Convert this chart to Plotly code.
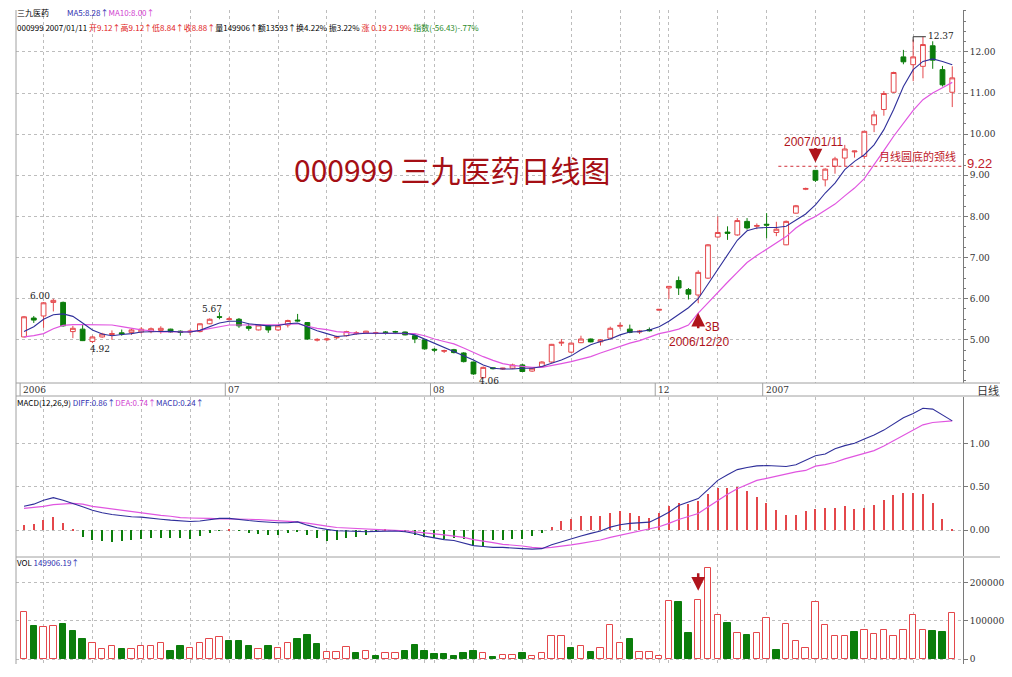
import plotly.graph_objects as go

# ---------------- data ----------------
opens = [5.07, 5.53, 5.58, 5.91, 5.91, 5.20, 5.26, 4.96, 5.07, 5.13,
         5.17, 5.18, 5.19, 5.20, 5.23, 5.26, 5.21, 5.19, 5.20, 5.39,
         5.56, 5.49, 5.50, 5.32, 5.24, 5.34, 5.24, 5.36, 5.48, 5.42,
         4.99, 5.00, 5.05, 5.10, 5.15, 5.16, 5.16, 5.19, 5.20, 5.19,
         5.10, 5.00, 4.77, 4.72, 4.76, 4.68, 4.46, 4.08, 4.32, 4.29,
         4.31, 4.39, 4.24, 4.35, 4.46, 4.92, 4.70, 4.93, 5.02, 4.95,
         5.04, 5.33, 5.26, 5.19, 5.25, 5.72, 6.26, 6.44, 6.22, 6.09,
         6.50, 7.50, 7.62, 7.55, 7.88, 7.76, 7.81, 7.61, 7.31, 8.08,
         8.66, 9.12, 8.89, 9.22, 9.42, 9.57, 9.46, 10.23, 10.60, 11.02,
         11.88, 11.69, 11.65, 12.15, 11.57, 11.02]
highs = [5.58, 5.58, 5.92, 6.00, 5.93, 5.34, 5.36, 5.10, 5.17, 5.23,
         5.25, 5.27, 5.31, 5.30, 5.33, 5.27, 5.23, 5.25, 5.40, 5.52,
         5.67, 5.56, 5.53, 5.40, 5.37, 5.36, 5.36, 5.49, 5.63, 5.43,
         5.04, 5.05, 5.10, 5.22, 5.21, 5.22, 5.20, 5.21, 5.22, 5.20,
         5.12, 5.01, 4.80, 4.76, 4.78, 4.70, 4.47, 4.35, 4.33, 4.32,
         4.42, 4.42, 4.33, 4.48, 4.90, 5.02, 4.93, 5.10, 5.03, 5.02,
         5.32, 5.42, 5.37, 5.24, 5.30, 5.75, 6.31, 6.54, 6.26, 6.69,
         7.33, 8.00, 7.76, 7.96, 7.96, 7.83, 8.08, 7.87, 7.90, 8.28,
         8.70, 9.12, 9.17, 9.45, 9.74, 9.60, 10.08, 10.57, 11.05, 11.52,
         12.05, 12.30, 12.37, 12.26, 11.66, 11.65]
lows = [5.06, 5.41, 5.29, 5.69, 5.32, 5.04, 4.97, 4.92, 5.05, 5.00,
        5.10, 5.12, 5.15, 5.16, 5.15, 5.17, 5.10, 5.12, 5.18, 5.38,
        5.50, 5.47, 5.29, 5.22, 5.23, 5.17, 5.22, 5.30, 5.44, 5.00,
        4.96, 4.97, 5.02, 5.08, 5.12, 5.15, 5.13, 5.13, 5.14, 5.11,
        4.92, 4.76, 4.70, 4.68, 4.67, 4.45, 4.15, 4.06, 4.28, 4.27,
        4.29, 4.22, 4.22, 4.33, 4.44, 4.85, 4.68, 4.92, 4.94, 4.86,
        5.03, 5.27, 5.16, 5.14, 5.20, 5.71, 5.99, 6.09, 5.98, 5.89,
        6.48, 7.48, 7.43, 7.53, 7.68, 7.69, 7.47, 7.52, 7.30, 8.07,
        8.64, 8.84, 8.73, 9.04, 9.22, 9.43, 9.40, 10.05, 10.45, 11.00,
        11.70, 11.29, 11.36, 11.59, 11.16, 10.66]
closes = [5.56, 5.48, 5.90, 5.96, 5.34, 5.28, 4.98, 5.07, 5.14, 5.15,
          5.14, 5.24, 5.26, 5.27, 5.28, 5.19, 5.18, 5.21, 5.39, 5.50,
          5.55, 5.51, 5.34, 5.28, 5.36, 5.24, 5.34, 5.47, 5.46, 5.02,
          5.01, 5.02, 5.07, 5.20, 5.17, 5.21, 5.17, 5.18, 5.19, 5.12,
          5.02, 4.78, 4.75, 4.74, 4.69, 4.47, 4.17, 4.33, 4.30, 4.31,
          4.39, 4.23, 4.31, 4.46, 4.89, 4.94, 4.92, 5.02, 4.95, 5.00,
          5.28, 5.35, 5.18, 5.21, 5.22, 5.74, 6.30, 6.26, 6.11, 6.64,
          7.31, 7.61, 7.59, 7.90, 7.72, 7.78, 7.79, 7.69, 7.88, 8.26,
          8.68, 8.88, 9.15, 9.40, 9.64, 9.59, 10.07, 10.47, 10.99, 11.50,
          11.76, 11.88, 12.18, 11.80, 11.20, 11.37]
ma5 = [5.20, 5.32, 5.50, 5.61, 5.63, 5.57, 5.41, 5.24, 5.14, 5.10,
       5.13, 5.15, 5.19, 5.20, 5.20, 5.21, 5.19, 5.19, 5.23, 5.32,
       5.41, 5.45, 5.45, 5.39, 5.37, 5.34, 5.35, 5.39, 5.41, 5.32,
       5.22, 5.15, 5.08, 5.10, 5.14, 5.16, 5.16, 5.16, 5.16, 5.16,
       5.12, 5.02, 4.92, 4.81, 4.72, 4.61, 4.51, 4.39, 4.31, 4.29,
       4.29, 4.31, 4.31, 4.35, 4.43, 4.51, 4.61, 4.76, 4.88, 4.96,
       5.02, 5.12, 5.19, 5.20, 5.24, 5.32, 5.45, 5.62, 5.78, 6.00,
       6.35, 6.72, 7.06, 7.42, 7.65, 7.72, 7.73, 7.73, 7.76, 7.92,
       8.06, 8.28, 8.57, 8.81, 9.14, 9.34, 9.50, 9.74, 10.11, 10.60,
       11.16, 11.57, 11.77, 11.83, 11.77, 11.69]
ma10 = [5.07, 5.10, 5.15, 5.27, 5.35, 5.37, 5.37, 5.37, 5.37, 5.36,
        5.32, 5.28, 5.24, 5.22, 5.19, 5.19, 5.19, 5.20, 5.23, 5.27,
        5.31, 5.36, 5.36, 5.36, 5.36, 5.36, 5.37, 5.38, 5.39, 5.33,
        5.28, 5.25, 5.20, 5.18, 5.16, 5.16, 5.16, 5.16, 5.16, 5.16,
        5.15, 5.10, 5.02, 4.96, 4.90, 4.80, 4.69, 4.59, 4.50, 4.42,
        4.38, 4.35, 4.33, 4.33, 4.37, 4.42, 4.47, 4.53, 4.59, 4.68,
        4.76, 4.84, 4.92, 4.98, 5.06, 5.15, 5.20, 5.26, 5.36, 5.65,
        5.90, 6.16, 6.40, 6.64, 6.88, 7.05, 7.20, 7.35, 7.51, 7.72,
        7.88, 8.00, 8.16, 8.30, 8.50, 8.69, 8.92, 9.25, 9.60, 9.95,
        10.28, 10.58, 10.84, 11.00, 11.13, 11.26]
diff = [0.276, 0.30, 0.345, 0.375, 0.345, 0.31, 0.27, 0.23, 0.20, 0.18,
        0.165, 0.155, 0.15, 0.135, 0.125, 0.115, 0.11, 0.10, 0.105, 0.12,
        0.135, 0.135, 0.12, 0.11, 0.10, 0.09, 0.085, 0.085, 0.095, 0.057,
        0.027, 0.008, -0.008, -0.01, -0.015, -0.02, -0.015, -0.015, -0.01, -0.02,
        -0.04, -0.07, -0.09, -0.11, -0.12, -0.15, -0.18, -0.19, -0.20, -0.20,
        -0.21, -0.215, -0.22, -0.215, -0.17, -0.134, -0.096, -0.069, -0.038, -0.011,
        0.034, 0.061, 0.077, 0.084, 0.092, 0.146, 0.207, 0.284, 0.32, 0.364,
        0.467, 0.575, 0.64, 0.70, 0.724, 0.743, 0.747, 0.743, 0.736, 0.755,
        0.805, 0.86, 0.88, 0.94, 0.977, 1.004, 1.054, 1.10, 1.157, 1.226,
        1.30, 1.35, 1.41, 1.40, 1.333, 1.264]
dea = [0.25, 0.26, 0.275, 0.295, 0.306, 0.31, 0.30, 0.275, 0.26, 0.245,
       0.225, 0.215, 0.20, 0.185, 0.17, 0.16, 0.145, 0.14, 0.14, 0.135,
       0.13, 0.13, 0.13, 0.125, 0.12, 0.115, 0.11, 0.10, 0.095, 0.08,
       0.06, 0.045, 0.03, 0.025, 0.015, 0.01, 0.005, 0.0, -0.005, -0.01,
       -0.02, -0.03, -0.04, -0.055, -0.07, -0.085, -0.11, -0.125, -0.145, -0.165,
       -0.172, -0.184, -0.20, -0.21, -0.20, -0.19, -0.172, -0.153, -0.134, -0.115,
       -0.084, -0.061, -0.038, -0.011, 0.015, 0.038, 0.077, 0.123, 0.157, 0.192,
       0.268, 0.345, 0.414, 0.479, 0.525, 0.575, 0.598, 0.625, 0.651, 0.674,
       0.69, 0.74, 0.757, 0.785, 0.824, 0.854, 0.889, 0.92, 0.973, 1.034,
       1.092, 1.157, 1.218, 1.245, 1.257, 1.264]
macd_hist = [0.057, 0.069, 0.115, 0.146, 0.077, 0.003, -0.077, -0.115, -0.123, -0.134,
             -0.123, -0.115, -0.107, -0.096, -0.096, -0.096, -0.096, -0.107, -0.069, -0.038,
             -0.008, 0.002, -0.008, -0.031, -0.046, -0.057, -0.057, -0.038, -0.011, -0.057,
             -0.096, -0.123, -0.115, -0.096, -0.077, -0.057, -0.008, 0.002, -0.008, -0.027,
             -0.057, -0.084, -0.096, -0.107, -0.096, -0.107, -0.18, -0.19, -0.115, -0.115,
             -0.107, -0.107, -0.069, -0.03, 0.038, 0.103, 0.134, 0.165, 0.165, 0.165,
             0.199, 0.218, 0.192, 0.165, 0.142, 0.192, 0.276, 0.314, 0.299, 0.333,
             0.421, 0.487, 0.490, 0.498, 0.448, 0.383, 0.314, 0.238, 0.180, 0.180,
             0.218, 0.24, 0.257, 0.261, 0.276, 0.241, 0.261, 0.287, 0.352, 0.410,
             0.433, 0.433, 0.414, 0.314, 0.134, 0.008]
volumes = [123000, 86000, 83000, 86000, 91000, 72000, 52000, 41000, 27000, 33000,
           26000, 27000, 35000, 33000, 43000, 22000, 34000, 28000, 41000, 52000,
           57000, 46000, 48000, 33000, 26000, 33000, 28000, 41000, 52000, 64000,
           38000, 18000, 18000, 31000, 15000, 20000, 9000, 15000, 17000, 20000,
           37000, 22000, 14000, 12000, 7000, 17000, 21000, 17000, 5000, 10000,
           10000, 15000, 7000, 15000, 59000, 59000, 28000, 33000, 18000, 28000,
           90000, 41000, 52000, 18000, 18000, 7000, 152000, 149000, 69000, 155000,
           238000, 116000, 93000, 67000, 64000, 67000, 107000, 24000, 91000, 47000,
           28000, 149906, 90000, 60000, 61000, 71000, 76000, 65000, 75000, 61000,
           75000, 114000, 75000, 72000, 70000, 119000]
vol_up = [1, 0, 1, 1, 0, 0, 0, 1, 1, 1,
          0, 1, 1, 1, 1, 0, 0, 1, 1, 1,
          1, 0, 0, 0, 1, 0, 1, 1, 0, 0,
          0, 1, 1, 1, 0, 1, 0, 1, 1, 0,
          0, 0, 0, 0, 0, 0, 0, 1, 0, 1,
          1, 0, 1, 1, 1, 1, 0, 1, 0, 1,
          1, 1, 0, 1, 1, 1, 1, 0, 0, 1,
          1, 1, 0, 1, 0, 1, 1, 0, 1, 1,
          1, 1, 1, 1, 1, 0, 1, 1, 1, 1,
          1, 1, 1, 0, 0, 1]
grid_bars = [2, 7, 12, 17, 21, 26, 31, 36, 41, 42, 46, 51, 56, 61, 65, 66, 71, 76, 81, 86, 91]
month_labels = ["2006", "07", "08", "12", "2007"]
month_bars = [0, 21, 42, 65, 76]
price_ticks = [5, 6, 7, 8, 9, 10, 11, 12]
macd_ticks = [0.0, 0.5, 1.0]
vol_ticks = [0, 100000, 200000]
neckline = 9.22

# ---------------- style ----------------
W, H = 1012, 677
RED = "#e4474b"
DRED = "#b0141c"
GREEN = "#0b7d0b"
BLUE = "#2f2f9a"
MAG = "#e055e0"
GRID = "#bdbdbd"
AX = "#7a7a7a"
FONT = "Noto Sans CJK SC"


def fx(p):
    return p / W


def fy(p):
    return 1 - p / H


x = list(range(len(closes)))
X_RANGE = [-0.82, 96.1]
XDOM = [fx(16), fx(963)]

fig = go.Figure()

# price panel
fig.add_trace(go.Candlestick(
    x=x, open=opens, high=highs, low=lows, close=closes,
    increasing=dict(line=dict(color=RED, width=1), fillcolor="white"),
    decreasing=dict(line=dict(color=GREEN, width=1), fillcolor=GREEN),
    whiskerwidth=0, xaxis="x", yaxis="y", showlegend=False, hoverinfo="skip"))
fig.add_trace(go.Scatter(x=x, y=ma10, mode="lines", line=dict(color=MAG, width=1.2),
                         xaxis="x", yaxis="y", showlegend=False, hoverinfo="skip"))
fig.add_trace(go.Scatter(x=x, y=ma5, mode="lines", line=dict(color=BLUE, width=1.1),
                         xaxis="x", yaxis="y", showlegend=False, hoverinfo="skip"))

# MACD panel
fig.add_trace(go.Bar(x=x, y=macd_hist, width=0.13,
                     marker=dict(color=[RED if v >= 0 else GREEN for v in macd_hist], line=dict(width=0)),
                     xaxis="x2", yaxis="y2", showlegend=False, hoverinfo="skip"))
fig.add_trace(go.Scatter(x=x, y=dea, mode="lines", line=dict(color=MAG, width=1.2),
                         xaxis="x2", yaxis="y2", showlegend=False, hoverinfo="skip"))
fig.add_trace(go.Scatter(x=x, y=diff, mode="lines", line=dict(color=BLUE, width=1.1),
                         xaxis="x2", yaxis="y2", showlegend=False, hoverinfo="skip"))

# volume panel
fig.add_trace(go.Bar(x=x, y=volumes, width=0.66,
                     marker=dict(color=["white" if u else GREEN for u in vol_up],
                                 line=dict(color=[RED if u else GREEN for u in vol_up], width=1)),
                     xaxis="x3", yaxis="y3", showlegend=False, hoverinfo="skip"))

xcommon = dict(domain=XDOM, range=X_RANGE, tickvals=grid_bars, showticklabels=False,
               showgrid=True, gridcolor=GRID, griddash="dot", gridwidth=1,
               zeroline=False, showline=False, ticks="", fixedrange=True)
ycommon = dict(side="right", showgrid=True, gridcolor=GRID, griddash="dot", gridwidth=1,
               zeroline=False, showline=True, linecolor=AX, linewidth=1,
               ticks="outside", ticklen=4, tickcolor=AX, fixedrange=True,
               tickfont=dict(family="DejaVu Serif", size=9, color="#333333"))

fig.update_layout(
    width=W, height=H, margin=dict(l=0, r=0, t=0, b=0),
    paper_bgcolor="white", plot_bgcolor="white", bargap=0,
    xaxis=dict(anchor="y", rangeslider=dict(visible=False), **xcommon),
    xaxis2=dict(anchor="y2", **xcommon),
    xaxis3=dict(anchor="y3", **xcommon),
    yaxis=dict(anchor="x", domain=[fy(383), fy(10)], range=[3.95, 13.02],
               tickvals=price_ticks, tickformat=".2f",
               minor=dict(dtick=0.25, ticks="outside", ticklen=2, tickcolor=AX, showgrid=False),
               **ycommon),
    yaxis2=dict(anchor="x2", domain=[fy(556), fy(397)], range=[-0.30, 1.54],
                tickvals=macd_ticks, tickformat=".2f", **ycommon),
    yaxis3=dict(anchor="x3", domain=[fy(664), fy(558)], range=[-12900, 263500],
                tickvals=vol_ticks, tickformat="d", **ycommon),
    font=dict(family=FONT),
)

shapes = []
# frame lines
shapes.append(dict(type="line", xref="paper", yref="paper", x0=fx(16), x1=fx(16), y0=fy(664), y1=fy(10),
                   line=dict(color="#a0a0a0", width=1)))
for yy in (383, 396, 557):
    shapes.append(dict(type="line", xref="paper", yref="paper", x0=fx(16), x1=fx(1000), y0=fy(yy), y1=fy(yy),
                       line=dict(color="#a0a0a0", width=1)))
# month separators on date row
for mb in month_bars:
    shapes.append(dict(type="line", xref="x", yref="paper", x0=mb - 0.4, x1=mb - 0.4, y0=fy(396), y1=fy(383),
                       line=dict(color="#a0a0a0", width=1)))
# neckline
shapes.append(dict(type="line", xref="x", yref="y", x0=77.2, x1=X_RANGE[1], y0=neckline, y1=neckline,
                   line=dict(color="#d0303a", width=1, dash="dot")))
# high marker 12.37
shapes.append(dict(type="line", xref="x", yref="y", x0=91, x1=92.3, y0=max(highs), y1=max(highs),
                   line=dict(color="#333333", width=1)))
shapes.append(dict(type="line", xref="x", yref="y", x0=91, x1=91, y0=max(highs), y1=max(highs) - 0.12,
                   line=dict(color="#333333", width=1)))
fig.update_layout(shapes=shapes)

ann = []
small = dict(family=FONT, size=8)
# header
ann.append(dict(xref="paper", yref="paper", x=fx(15), y=fy(12), xanchor="left", yanchor="middle", showarrow=False,
                text="三九医药          <span style='color:#2f2fb0'>MA5:8.28↑</span><span style='color:#d040d0'>MA10:8.00↑</span>",
                font=dict(small, color="black")))
ann.append(dict(xref="paper", yref="paper", x=fx(15), y=fy(27), xanchor="left", yanchor="middle", showarrow=False,
                text="000999 2007/01/11 <span style='color:#e02020'>开9.12↑高9.12↑低8.84↑收8.88↑</span>"
                     "量149906↑额13593↑换4.22% 振3.22% <span style='color:#e02020'>涨 0.19 2.19%</span> "
                     "<span style='color:#2a8a2a'>指数(-56.43)-.77%</span>",
                font=dict(small, color="black")))
ann.append(dict(xref="paper", yref="paper", x=fx(15), y=fy(402), xanchor="left", yanchor="middle", showarrow=False,
                text="MACD(12,26,9) <span style='color:#2f2fb0'>DIFF:0.86↑</span>"
                     "<span style='color:#d040d0'>DEA:0.74↑</span><span style='color:#2f2fb0'>MACD:0.24↑</span>",
                font=dict(small, color="black")))
ann.append(dict(xref="paper", yref="paper", x=fx(15), y=fy(562), xanchor="left", yanchor="middle", showarrow=False,
                text="VOL <span style='color:#2f2fb0'>149906.19↑</span>", font=dict(small, color="black")))
# month labels
for lab, mb in zip(month_labels, month_bars):
    ann.append(dict(xref="x", yref="paper", x=mb - 0.3, y=fy(390), xanchor="left", yanchor="middle",
                    showarrow=False, text=lab, font=dict(family="DejaVu Serif", size=9, color="#333333")))
ann.append(dict(xref="paper", yref="paper", x=fx(975), y=fy(390), xanchor="left", yanchor="middle",
                showarrow=False, text="日线", font=dict(family=FONT, size=11, color="#333333")))
# title
ann.append(dict(xref="paper", yref="paper", x=fx(452), y=fy(169), xanchor="center", yanchor="middle",
                showarrow=False, text="000999 三九医药日线图", font=dict(family=FONT, size=30, color="#a50f15")))
# high/low labels
for txt, xb, yv in (("6.00", 1.6, 6.07), ("4.92", 7.8, 4.78), ("5.67", 19.2, 5.75), ("4.06", 47.6, 3.99)):
    ann.append(dict(xref="x", yref="y", x=xb, y=yv, xanchor="center", yanchor="middle", showarrow=False,
                    text=txt, font=dict(family="DejaVu Serif", size=9, color="#222222")))
ann.append(dict(xref="x", yref="y", x=92.3, y=max(highs) + 0.03, xanchor="left", yanchor="middle", showarrow=False,
                text="12.37", font=dict(family="DejaVu Serif", size=9, color="#222222")))
# arrows and notes
ann.append(dict(xref="x", yref="y", x=81, y=9.31, ax=0, ay=-16, showarrow=True, arrowhead=2, arrowsize=1.1,
                arrowwidth=2.5, arrowcolor=DRED, text=""))
ann.append(dict(xref="x", yref="y", x=80.8, y=9.82, xanchor="center", yanchor="middle", showarrow=False,
                text="2007/01/11", font=dict(family="Liberation Sans", size=12, color=DRED)))
ann.append(dict(xref="x", yref="y", x=69, y=5.66, ax=0, ay=17, showarrow=True, arrowhead=2, arrowsize=1.1,
                arrowwidth=2.5, arrowcolor=DRED, text=""))
ann.append(dict(xref="x", yref="y", x=69.5, y=5.32, xanchor="left", yanchor="middle", showarrow=False,
                text="3B", font=dict(family="Liberation Sans", size=12, color=DRED)))
ann.append(dict(xref="x", yref="y", x=69.1, y=4.95, xanchor="center", yanchor="middle", showarrow=False,
                text="2006/12/20", font=dict(family="Liberation Sans", size=12, color=DRED)))
ann.append(dict(xref="x3", yref="y3", x=69, y=178000, ax=0, ay=-19, showarrow=True, arrowhead=2, arrowsize=1.1,
                arrowwidth=2.5, arrowcolor=DRED, text=""))
ann.append(dict(xref="x", yref="y", x=95.6, y=neckline, xanchor="right", yanchor="bottom", showarrow=False,
                text="月线圆底的颈线", font=dict(family=FONT, size=11, color="#c0202a")))
ann.append(dict(xref="paper", yref="y", x=fx(965), y=neckline + 0.07, xanchor="left", yanchor="middle",
                showarrow=False, text="9.22", font=dict(family="Liberation Sans", size=13, color="#c0202a")))
fig.update_layout(annotations=ann)

fig.write_html("out.html", config={"displayModeBar": False},
               post_script="document.body.style.margin='0px';document.body.style.overflow='hidden';")
